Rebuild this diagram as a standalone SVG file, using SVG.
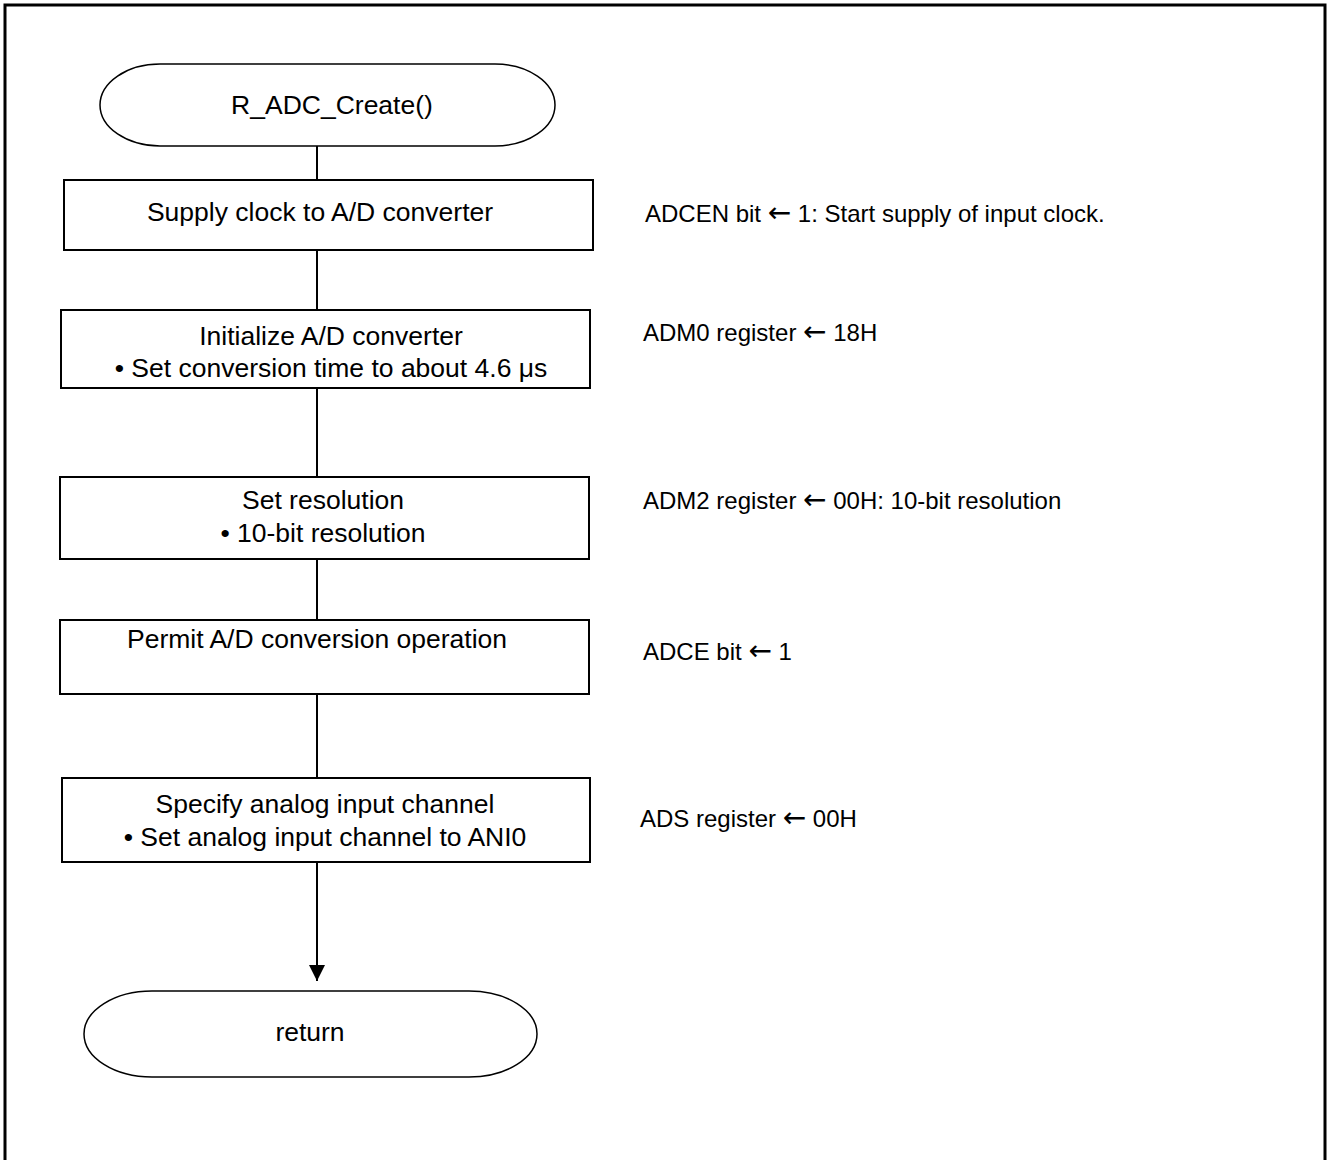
<svg xmlns="http://www.w3.org/2000/svg" width="1328" height="1160" viewBox="0 0 1328 1160">
  <style>
    .frame { fill: none; stroke: #000; stroke-width: 3; }
    .box { fill: #fff; stroke: #000; stroke-width: 2; }
    .term { fill: #fff; stroke: #000; stroke-width: 1.5; }
    .wire { fill: none; stroke: #000; stroke-width: 2; }
    .t { font-family: "Liberation Sans", Arial, sans-serif; font-size: 26.5px; fill: #000; text-anchor: middle; }
    .note { font-family: "Liberation Sans", Arial, sans-serif; font-size: 24px; fill: #000; }
    .arr { font-family: "DejaVu Sans", sans-serif; font-size: 28px; }
  </style>
  <defs>
    <marker id="arrowhead" viewBox="0 0 16 16" refX="16" refY="8" markerWidth="16" markerHeight="16" markerUnits="userSpaceOnUse" orient="auto">
      <path d="M0,0 L16,8 L0,16 z" fill="#000"/>
    </marker>
  </defs>
  <rect width="1328" height="1160" fill="#fff"/>
  <!-- outer frame, open below the visible area -->
  <rect class="frame" x="5" y="5" width="1320" height="1170"/>

  <g id="connectors">
    <line class="wire" x1="317" y1="146" x2="317" y2="180"/>
    <line class="wire" x1="317" y1="250" x2="317" y2="310"/>
    <line class="wire" x1="317" y1="388" x2="317" y2="477"/>
    <line class="wire" x1="317" y1="559" x2="317" y2="620"/>
    <line class="wire" x1="317" y1="694" x2="317" y2="778"/>
    <line class="wire" x1="317" y1="862" x2="317" y2="981" marker-end="url(#arrowhead)"/>
  </g>

  <g id="start">
    <rect class="term" x="100" y="64" width="455" height="82" rx="60" ry="41"/>
    <text class="t" x="332" y="114">R_ADC_Create()</text>
  </g>

  <g id="supply-clock">
    <rect class="box" x="64" y="180" width="529" height="70"/>
    <text class="t" x="320" y="221">Supply clock to A/D converter</text>
  </g>

  <g id="init-adc">
    <rect class="box" x="61" y="310" width="529" height="78"/>
    <text class="t" x="331" y="345">Initialize A/D converter</text>
    <text class="t" x="331" y="377">• Set conversion time to about 4.6 μs</text>
  </g>

  <g id="set-resolution">
    <rect class="box" x="60" y="477" width="529" height="82"/>
    <text class="t" x="323" y="509">Set resolution</text>
    <text class="t" x="323" y="542">• 10-bit resolution</text>
  </g>

  <g id="permit-conversion">
    <rect class="box" x="60" y="620" width="529" height="74"/>
    <text class="t" x="317" y="648">Permit A/D conversion operation</text>
  </g>

  <g id="input-channel">
    <rect class="box" x="62" y="778" width="528" height="84"/>
    <text class="t" x="325" y="813">Specify analog input channel</text>
    <text class="t" x="325" y="846">• Set analog input channel to ANI0</text>
  </g>

  <g id="return">
    <rect class="term" x="84" y="991" width="453" height="86" rx="68" ry="43"/>
    <text class="t" x="310" y="1041">return</text>
  </g>

  <g id="notes">
    <text class="note" x="645" y="222">ADCEN bit <tspan class="arr">←</tspan> 1: Start supply of input clock.</text>
    <text class="note" x="643" y="341">ADM0 register <tspan class="arr">←</tspan> 18H</text>
    <text class="note" x="643" y="509">ADM2 register <tspan class="arr">←</tspan> 00H: 10-bit resolution</text>
    <text class="note" x="643" y="660">ADCE bit <tspan class="arr">←</tspan> 1</text>
    <text class="note" x="640" y="827">ADS register <tspan class="arr">←</tspan> 00H</text>
  </g>
</svg>
